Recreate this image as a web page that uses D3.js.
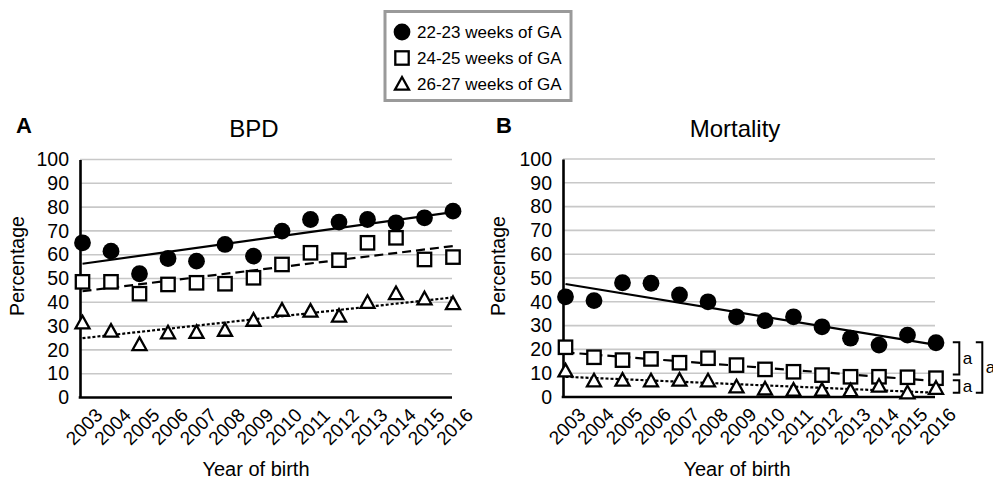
<!DOCTYPE html>
<html lang="en">
<head>
<meta charset="UTF-8">
<title>BPD and Mortality</title>
<script src="https://cdn.jsdelivr.net/npm/d3@7"></script>
<style>
  body { margin: 0; background: #fff; }
  text { font-family: "Liberation Sans", Arial, sans-serif; fill: #000; }
</style>
</head>
<body>
<svg width="993" height="479"></svg>
<script>
// data
var years = [2003, 2004, 2005, 2006, 2007, 2008, 2009, 2010, 2011, 2012, 2013, 2014, 2015, 2016];
var yTicks = [0, 10, 20, 30, 40, 50, 60, 70, 80, 90, 100];
var groups = ["22-23 weeks of GA", "24-25 weeks of GA", "26-27 weeks of GA"];

var bpd22 = [65, 61.5, 52, 58.4, 57.3, 64.3, 59.4, 69.9, 74.8, 73.7, 74.8, 73.4, 75.5, 78.3];
var bpd24 = [48.6, 48.6, 43.6, 47.5, 48.2, 47.8, 50.3, 55.9, 60.8, 57.7, 65, 67.1, 58, 59];
var bpd26 = [31.4, 27.9, 22.3, 27.2, 27.4, 28.3, 32.5, 36.7, 36.3, 34.2, 40, 43.7, 41.5, 39.5];

var mort22 = [42.1, 40.5, 48, 47.8, 42.9, 40, 33.7, 32.1, 33.7, 29.5, 24.7, 21.8, 26, 22.8];
var mort24 = [20.9, 16.7, 15.5, 16, 14.4, 16.3, 13.4, 11.6, 10.6, 9.2, 8.5, 8.5, 8.3, 7.9];
var mort26 = [11, 6.8, 7.1, 6.8, 7.1, 6.8, 4.3, 3.4, 2.9, 2.9, 2.7, 4.6, 1.8, 3.7];

// significance brackets on the mortality panel: [top, bottom] in %
var brackets = [
  { top: 23, bottom: 9.5, col: 0 },
  { top: 7, bottom: 1.8, col: 0 },
  { top: 23, bottom: 1.8, col: 1 }
];

var svg = d3.select("svg");

// linear trend (least squares) like the spreadsheet trendline
function trend(vals) {
  var n = vals.length, mx = (n - 1) / 2, my = d3.mean(vals);
  var sxy = 0, sxx = 0;
  vals.forEach(function(v, i) { sxy += (i - mx) * (v - my); sxx += (i - mx) * (i - mx); });
  var b = sxy / sxx, a = my - b * mx;
  return [a, a + b * (n - 1)];
}

var styles = [
  { dash: null },
  { dash: "9,5" },
  { dash: "3,2" }
];

function drawMarker(g, kind, x, y) {
  if (kind == 0) {
    g.append("circle").attr("cx", x).attr("cy", y).attr("r", 8.4).attr("fill", "#000");
  } else if (kind == 1) {
    g.append("rect").attr("x", x - 6.7).attr("y", y - 6.7).attr("width", 13.4).attr("height", 13.4)
      .attr("fill", "#fff").attr("stroke", "#000").attr("stroke-width", 2.3);
  } else {
    g.append("path").attr("d", "M" + x + "," + (y - 7) + "L" + (x + 7) + "," + (y + 5.6) + "L" + (x - 7) + "," + (y + 5.6) + "Z")
      .attr("fill", "#fff").attr("stroke", "#000").attr("stroke-width", 2.3).attr("stroke-linejoin", "miter");
  }
}

function panel(opt) {
  var g = svg.append("g");
  var x = d3.scalePoint().domain(years).range([opt.x0 + 2.5, opt.x1 + 1]);
  var y = d3.scaleLinear().domain([0, 100]).range([opt.yb, opt.yt]);

  // grid
  g.selectAll(".grid").data(yTicks.slice(1)).enter().append("line")
    .attr("x1", opt.x0).attr("x2", opt.x1)
    .attr("y1", function(d) { return y(d); }).attr("y2", function(d) { return y(d); })
    .attr("stroke", "#c8c8c8").attr("stroke-width", 1.6);

  // y axis
  var ya = g.append("g").attr("transform", "translate(" + opt.x0 + ",0)")
    .call(d3.axisLeft(y).tickValues(yTicks).tickSize(0).tickPadding(11));
  ya.select(".domain").attr("stroke", "#000").attr("stroke-width", 2.6);
  ya.selectAll("text").style("font-size", "19.5px").attr("fill", "#000");

  // x axis
  var xa = g.append("g").attr("transform", "translate(0," + opt.yb + ")")
    .call(d3.axisBottom(x).tickSize(0).tickFormat(d3.format("d")));
  xa.select(".domain").attr("d", "M" + (opt.x0 - 1.3) + ",0H" + opt.x1)
    .attr("stroke", "#000").attr("stroke-width", 2.6);
  xa.selectAll("text").style("font-size", "19px").attr("fill", "#000")
    .attr("text-anchor", "middle").attr("dy", "0.35em").attr("y", 0)
    .attr("transform", "translate(1,29) rotate(-45)");

  // trend lines then markers
  opt.series.forEach(function(vals, k) {
    var t = trend(vals);
    g.append("line")
      .attr("x1", x(years[0])).attr("y1", y(t[0]))
      .attr("x2", x(years[years.length - 1])).attr("y2", y(t[1]))
      .attr("stroke", "#000").attr("stroke-width", 2.2)
      .attr("stroke-dasharray", styles[k].dash);
  });
  opt.series.forEach(function(vals, k) {
    vals.forEach(function(v, i) { drawMarker(g, k, x(years[i]), y(v)); });
  });

  // labels
  g.append("text").attr("x", opt.letterX).attr("y", 133)
    .style("font-size", "22px").style("font-weight", "bold").text(opt.letter);
  g.append("text").attr("x", opt.titleX).attr("y", 137).attr("text-anchor", "middle")
    .style("font-size", "24px").text(opt.title);
  g.append("text").attr("transform", "translate(" + opt.ylabX + ",266) rotate(-90)")
    .attr("text-anchor", "middle").style("font-size", "19.5px").text("Percentage");
  g.append("text").attr("x", opt.xlabX).attr("y", 476).attr("text-anchor", "middle")
    .style("font-size", "20px").text("Year of birth");
  return { x: x, y: y, g: g };
}

panel({ x0: 80, x1: 452, yt: 159.5, yb: 397.5, series: [bpd22, bpd24, bpd26],
  letter: "A", letterX: 16, title: "BPD", titleX: 254, ylabX: 24, xlabX: 256 });
var pB = panel({ x0: 563, x1: 935, yt: 159, yb: 397, series: [mort22, mort24, mort26],
  letter: "B", letterX: 496, title: "Mortality", titleX: 735, ylabX: 505, xlabX: 737 });

// brackets
brackets.forEach(function(b) {
  var bx = b.col == 0 ? 959.3 : 982.3;
  var y1 = pB.y(b.top), y2 = pB.y(b.bottom);
  svg.append("path")
    .attr("d", "M" + (bx - 6.5) + "," + y1 + "H" + bx + "V" + y2 + "H" + (bx - 6.5))
    .attr("fill", "none").attr("stroke", "#000").attr("stroke-width", 2);
  svg.append("text").attr("x", bx + 3.5).attr("y", (y1 + y2) / 2).attr("dy", "0.35em")
    .style("font-size", "17px").text("a");
});

// legend
var lg = svg.append("g");
lg.append("rect").attr("x", 385).attr("y", 11.5).attr("width", 186).attr("height", 89)
  .attr("fill", "#fff").attr("stroke", "#9a9a9a").attr("stroke-width", 3);
groups.forEach(function(name, k) {
  var cy = 32 + k * 26;
  drawMarker(lg, k, 402, cy);
  lg.append("text").attr("x", 417).attr("y", cy + 6).style("font-size", "17px").text(name);
});
</script>
</body>
</html>
